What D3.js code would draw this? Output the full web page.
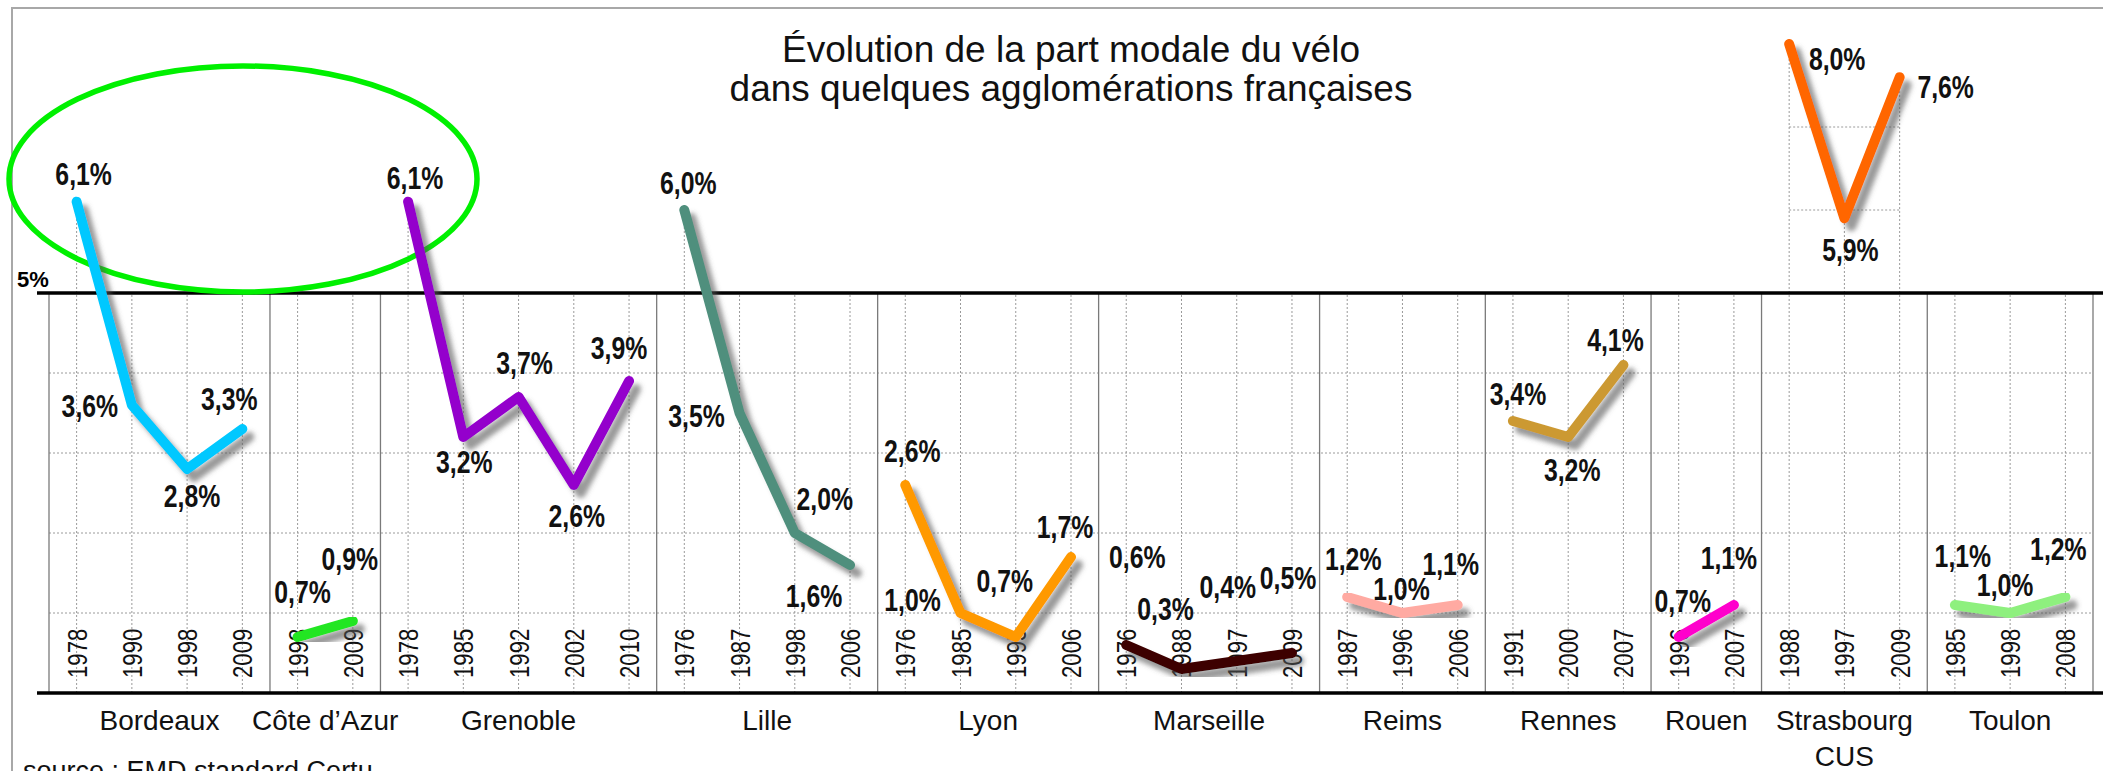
<!DOCTYPE html>
<html>
<head>
<meta charset="utf-8">
<script src="https://cdn.jsdelivr.net/npm/d3@7"></script>
<style>
  body { margin: 0; background: #fff; }
  svg { display: block; }
</style>
</head>
<body>
<div id="chart"></div>
<script>
// part modale du vélo, EMD standard Certu
const cities = ["Bordeaux", "Côte d’Azur", "Grenoble", "Lille", "Lyon", "Marseille",
                "Reims", "Rennes", "Rouen", "Strasbourg", "Toulon"];
const cityLines = [["Bordeaux"], ["Côte d’Azur"], ["Grenoble"], ["Lille"], ["Lyon"], ["Marseille"],
                   ["Reims"], ["Rennes"], ["Rouen"], ["Strasbourg", "CUS"], ["Toulon"]];
const years = [
  [1978, 1990, 1998, 2009],
  [1998, 2009],
  [1978, 1985, 1992, 2002, 2010],
  [1976, 1987, 1998, 2006],
  [1976, 1985, 1995, 2006],
  [1976, 1988, 1997, 2009],
  [1987, 1996, 2006],
  [1991, 2000, 2007],
  [1996, 2007],
  [1988, 1997, 2009],
  [1985, 1998, 2008]
];
const shares = [
  [6.1, 3.6, 2.8, 3.3],
  [0.7, 0.9],
  [6.1, 3.2, 3.7, 2.6, 3.9],
  [6.0, 3.5, 2.0, 1.6],
  [2.6, 1.0, 0.7, 1.7],
  [0.6, 0.3, 0.4, 0.5],
  [1.2, 1.0, 1.1],
  [3.4, 3.2, 4.1],
  [0.7, 1.1],
  [8.0, 5.9, 7.6],
  [1.1, 1.0, 1.2]
];
const lowTicks = [1, 2, 3, 4];
const highTicks = [6, 7];

const colors = ["#00c8ff", "#22e622", "#9400cc", "#4f8f7d", "#ff9900", "#3d0000",
                "#ffaaa2", "#cc9933", "#ff00cc", "#ff6600", "#8ef07e"];
// label placement (dx, dy from the point)
const labelOffsets = [
  [[7, -28], [-42, 1], [5, 27], [-13, -30]],
  [[5, -45], [-3, -62]],
  [[7, -24], [1, 25], [6, -34], [3, 31], [-10, -33]],
  [[4, -27], [-43, 3], [30, -34], [-36, 31]],
  [[7, -34], [-48, -13], [-11, -56], [-6, -30]],
  [[11, -88], [-16, -60], [-9, -74], [-4, -75]],
  [[6, -38], [-1, -24], [-7, -41]],
  [[5, -27], [4, 33], [-8, -25]],
  [[4, -36], [-5, -47]],
  [[48, 15], [6, 32], [46, 10]],
  [[8, -49], [-5, -28], [-7, -48]]
];

const W = 2103, H = 771;
const svg = d3.select("#chart").append("svg")
  .attr("width", W).attr("height", H);

const defs = svg.append("defs");
const f = defs.append("filter").attr("id", "shadow")
  .attr("x", "-20%").attr("y", "-20%").attr("width", "150%").attr("height", "150%");
f.append("feDropShadow").attr("dx", 7).attr("dy", 8).attr("stdDeviation", 2.5)
  .attr("flood-color", "#555").attr("flood-opacity", 0.6);

// flat list of points
const pts = [];
cities.forEach((c, i) => {
  years[i].forEach((yr, j) => {
    pts.push({city: i, idx: j, year: yr, v: shares[i][j], key: i + "-" + yr});
  });
});

const x = d3.scaleBand().domain(pts.map(d => d.key)).range([49, 2093]).padding(0);
const bw = x.bandwidth();
const cx = d => x(d.key) + bw / 2;
const y = d3.scaleLinear().domain([0, 5, 8]).range([693, 293, 44]);

const narrow = '"Liberation Sans Narrow", "Arial Narrow", "Liberation Sans", Arial, sans-serif';
const sans = '"Liberation Sans", Arial, Helvetica, sans-serif';

// frame
svg.append("path").attr("d", `M12,${H} V8 H${W}`)
  .attr("fill", "none").attr("stroke", "#a8a8a8").attr("stroke-width", 2);

// title
const title = svg.append("text").attr("x", 1071).attr("y", 62)
  .attr("text-anchor", "middle").attr("font-family", sans).attr("font-size", 37).attr("fill", "#111");
title.append("tspan").attr("x", 1071).text("Évolution de la part modale du vélo");
title.append("tspan").attr("x", 1071).attr("dy", 39).text("dans quelques agglomérations françaises");

const grid = svg.append("g");
// horizontal dotted lines under 5%
grid.selectAll(".hg").data(lowTicks).join("line")
  .attr("x1", 49).attr("x2", 2093)
  .attr("y1", d => y(d)).attr("y2", d => y(d))
  .attr("stroke", "#9a9a9a").attr("stroke-width", 1).attr("stroke-dasharray", "2,2");

// vertical dotted lines for each survey year
grid.selectAll(".vg").data(pts).join("line")
  .attr("x1", cx).attr("x2", cx)
  .attr("y1", y(0)).attr("y2", d => y(Math.max(5, d.v)))
  .attr("stroke", "#9a9a9a").attr("stroke-width", 1).attr("stroke-dasharray", "2,2");

// upper grid only where the whole series sits above 5%
cities.forEach((c, i) => {
  if (d3.min(shares[i]) <= 5) return;
  const first = pts.find(p => p.city === i), last = pts.filter(p => p.city === i).pop();
  grid.selectAll(null).data(highTicks).join("line")
    .attr("x1", cx(first)).attr("x2", cx(last))
    .attr("y1", d => y(d)).attr("y2", d => y(d))
    .attr("stroke", "#9a9a9a").attr("stroke-width", 1).attr("stroke-dasharray", "2,2");
});

// separators between cities
const bounds = cities.map((c, i) => {
  const cp = pts.filter(p => p.city === i);
  return [x(cp[0].key), x(cp[cp.length - 1].key) + bw];
});
const seps = [bounds[0][0]].concat(bounds.map(b => b[1]));
svg.append("g").selectAll("line").data(seps).join("line")
  .attr("x1", d => d).attr("x2", d => d)
  .attr("y1", y(5)).attr("y2", y(0))
  .attr("stroke", "#7a7a7a").attr("stroke-width", 1.3);

// 5% and 0 lines
svg.append("line").attr("x1", 37).attr("x2", W).attr("y1", y(5)).attr("y2", y(5))
  .attr("stroke", "#000").attr("stroke-width", 3.5);
svg.append("line").attr("x1", 37).attr("x2", W).attr("y1", y(0)).attr("y2", y(0))
  .attr("stroke", "#000").attr("stroke-width", 3.5);
svg.append("text").attr("x", 17).attr("y", 287).attr("font-family", narrow)
  .attr("font-weight", "bold").attr("font-size", 22).text("5%");

// year labels
svg.append("g").selectAll("text").data(pts).join("text")
  .attr("transform", d => `translate(${cx(d) + 10},678) rotate(-90)`)
  .attr("font-family", narrow).attr("font-size", 27).attr("fill", "#111")
  .text(d => d.year);

// city names
const cl = svg.append("g").selectAll("text").data(cityLines).join("text")
  .attr("text-anchor", "middle").attr("font-family", sans).attr("font-size", 28).attr("fill", "#111")
  .attr("x", (d, i) => (bounds[i][0] + bounds[i][1]) / 2).attr("y", 730);
cl.each(function(d, i) {
  d3.select(this).selectAll("tspan").data(d).join("tspan")
    .attr("x", (bounds[i][0] + bounds[i][1]) / 2)
    .attr("dy", (t, k) => k ? 36 : 0).text(t => t);
});

// green circle on the 1978 values
svg.append("ellipse").attr("cx", 243).attr("cy", 179).attr("rx", 234).attr("ry", 113)
  .attr("fill", "none").attr("stroke", "#00f000").attr("stroke-width", 5.5);

// the lines
const line = d3.line().x(cx).y(d => y(d.v));
svg.append("g").selectAll("path").data(cities.map((c, i) => pts.filter(p => p.city === i))).join("path")
  .attr("d", line)
  .attr("fill", "none")
  .attr("stroke", (d, i) => colors[i])
  .attr("stroke-width", 10)
  .attr("stroke-linecap", "round").attr("stroke-linejoin", "round")
  .attr("filter", "url(#shadow)");

// value labels
const fmt = v => v.toFixed(1).replace(".", ",") + "%";
const vl = svg.append("g").selectAll("text").data(pts).join("text")
  .attr("x", d => cx(d) + labelOffsets[d.city][d.idx][0])
  .attr("y", d => y(d.v) + labelOffsets[d.city][d.idx][1])
  .attr("dy", "0.36em")
  .attr("text-anchor", "middle")
  .attr("font-family", narrow).attr("font-weight", "bold").attr("font-size", 31).attr("fill", "#111")
  .text(d => fmt(d.v));

// source
svg.append("text").attr("x", 23).attr("y", 780).attr("font-family", sans)
  .attr("font-size", 27).attr("fill", "#111").text("source : EMD standard Certu");

// if no narrow face is installed, squeeze the glyphs
const probe = vl.node().getComputedTextLength();
if (probe > 64) {
  vl.each(function() {
    const w = this.getComputedTextLength();
    d3.select(this).attr("textLength", w * 0.8).attr("lengthAdjust", "spacingAndGlyphs");
  });
  svg.selectAll("text").filter(function() {
    return this.getAttribute("transform") && this.getAttribute("transform").includes("rotate");
  }).each(function() {
    const w = this.getComputedTextLength();
    d3.select(this).attr("textLength", w * 0.82).attr("lengthAdjust", "spacingAndGlyphs");
  });
}
</script>
</body>
</html>
